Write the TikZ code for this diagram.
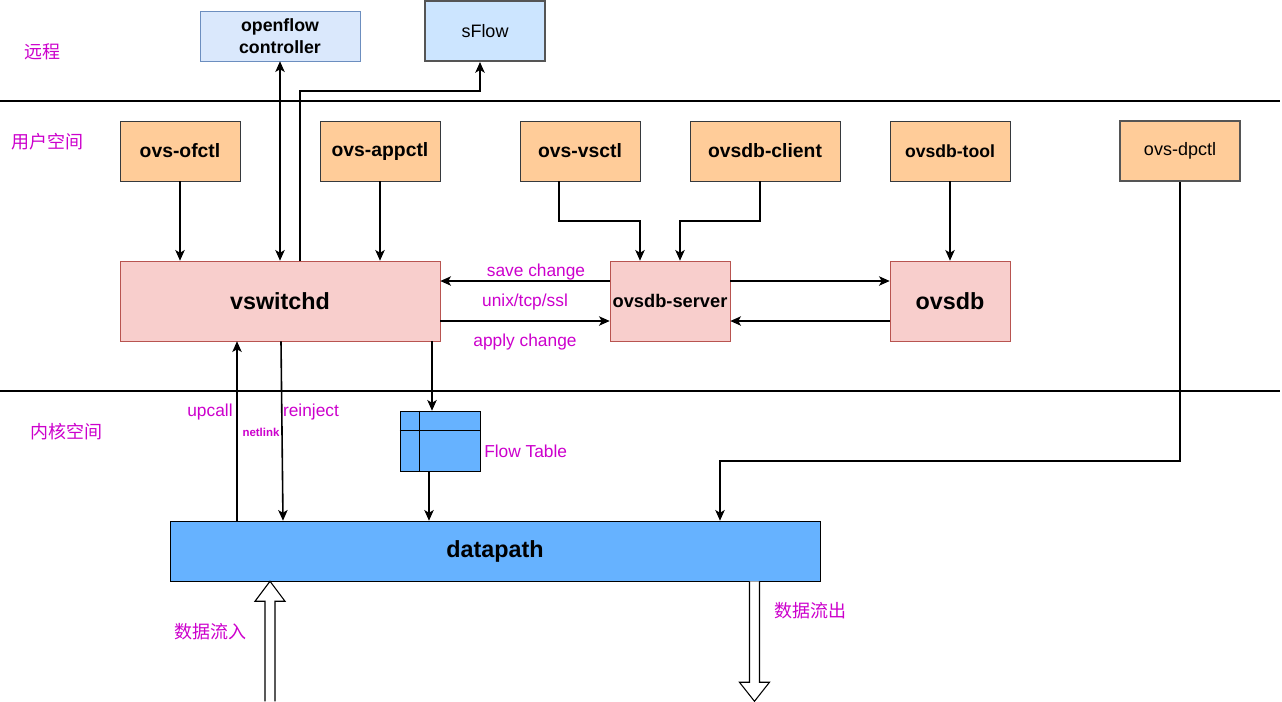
\documentclass[tikz,border=0pt]{standalone}
\usepackage{fontspec}
\setmainfont{Liberation Sans}
\newfontfamily\cjk{Noto Sans CJK SC}
\usepackage{xcolor}
\usetikzlibrary{arrows.meta}
\definecolor{tooltint}{HTML}{FFCC99}
\definecolor{toolline}{HTML}{36393D}
\definecolor{daemontint}{HTML}{F8CECC}
\definecolor{daemonline}{HTML}{B85450}
\definecolor{ctrltint}{HTML}{DAE8FC}
\definecolor{ctrlline}{HTML}{6C8EBF}
\definecolor{sflowtint}{HTML}{CCE5FF}
\definecolor{greyline}{HTML}{555555}
\definecolor{kerneltint}{HTML}{66B2FF}
\definecolor{notetext}{HTML}{CC00CC}

\begin{document}
\begin{tikzpicture}[x=0.75pt,y=-0.75pt,>={Stealth[length=8pt,width=7pt,inset=2pt]}]
\tikzstyle{every node}+=[inner sep=0pt]
\tikzstyle{toolbox}=[draw=toolline, fill=tooltint, minimum width=90pt, minimum height=45pt, font=\fontsize{14.5}{17}\selectfont\bfseries]
\tikzstyle{daemonbox}=[draw=daemonline, fill=daemontint, minimum height=60pt, font=\fontsize{17.5}{20}\selectfont\bfseries]
\tikzstyle{note}=[text=notetext, font=\fontsize{13}{15}\selectfont]
\tikzstyle{zone}=[text=notetext, font=\cjk\fontsize{13.5}{15}\selectfont]
\tikzstyle{arr}=[line width=1.2pt, ->]
\tikzstyle{hollow}=[line width=0.8pt, fill=white]
\useasboundingbox (0,0) rectangle (1282,701);
% zone separators
\draw [line width=0.8pt] (0,101) -- (1280,101);
\draw [line width=0.8pt] (0,391) -- (1280,391);
\node [zone] (remote) at (42,52) {远程};
\node [zone] (userspace) at (48,142) {用户空间};
\node [zone] (kernelspace) at (66,432) {内核空间};
% remote side
\node [draw=ctrlline, fill=ctrltint, minimum width=120pt, minimum height=37.5pt, align=center, font=\fontsize{13.3}{16}\selectfont\bfseries] (openflow) at (280,36) {openflow\\controller};
\node [draw=greyline, line width=1.5pt, fill=sflowtint, minimum width=90pt, minimum height=45pt, font=\fontsize{13.5}{16}\selectfont] (sFlow) at (485,31) {sFlow};
% user space tools
\node [toolbox] (ofctl) at (180,151) {ovs-ofctl};
\node [toolbox] (appctl) at (380,151) {ovs-appctl};
\node [toolbox] (vsctl) at (580,151) {ovs-vsctl};
\node [toolbox, minimum width=112.5pt] (client) at (765,151) {ovsdb-client};
\node [toolbox, font=\fontsize{13.2}{16}\selectfont\bfseries] (tool) at (950,151) {ovsdb-tool};
\node [toolbox, draw=greyline, line width=1.5pt, font=\fontsize{13.5}{16}\selectfont] (dpctl) at (1180,151) {ovs-dpctl};
% daemons
\node [daemonbox, minimum width=240pt] (vswitchd) at (280,301) {vswitchd};
\node [daemonbox, minimum width=90pt, font=\fontsize{13.7}{16}\selectfont\bfseries] (server) at (670,301) {ovsdb-server};
\node [daemonbox, minimum width=90pt] (ovsdb) at (950,301) {ovsdb};
% kernel
\node [draw, fill=kerneltint, minimum width=60pt, minimum height=45pt] (flow) at (440,441) {};
\draw ([xshift=15pt]flow.north west) -- ([xshift=15pt]flow.south west);
\draw ([yshift=-15pt]flow.north west) -- ([yshift=-15pt]flow.north east);
\node [draw, fill=kerneltint, minimum width=487.5pt, minimum height=45pt, font=\fontsize{17.5}{20}\selectfont\bfseries] (datapath) at (495,551) {datapath};
% labels
\node [note] (save) at (536,272) {save change};
\node [note] (proto) at (525,302) {unix/tcp/ssl};
\node [note] (apply) at (525,342) {apply change};
\node [note] (upcall) at (210,412) {upcall};
\node [note] (reinject) at (311,412) {reinject};
\node [note, font=\fontsize{8.6}{10}\selectfont\bfseries] (netlink) at (261,432) {netlink};
\node [note, anchor=west] (flowlabel) at (484,451) {Flow Table};
\node [zone] (datain) at (210,632) {数据流入};
\node [zone] (dataout) at (810,611) {数据流出};
% connectors
\coordinate (sflowfoot) at (300,261);
\coordinate (sflowbend) at (480,91);
\coordinate (dpbend) at (720,461);
\path ([xshift=114pt]vswitchd.south) coordinate (vsout);
\path ([xshift=-8.25pt]flow.south) coordinate (ftout);
\path ([xshift=-193.5pt]datapath.north) coordinate (upfoot);
\path ([xshift=-168.75pt]datapath.south) coordinate (intip);
\path ([xshift=194.6pt]datapath.south) coordinate (outtop);
\draw [arr, <->] (openflow) -- (openflow |- vswitchd.north);
\draw [arr] (sflowfoot) |- (sflowbend) -- (sflowbend |- sFlow.south);
\draw [arr] (ofctl) -- (ofctl |- vswitchd.north);
\draw [arr] (appctl) -- (appctl |- vswitchd.north);
\draw [arr] ([xshift=-15.75pt]vsctl.south) -- ++(0,40) -| ([xshift=-22.5pt]server.north);
\draw [arr] ([xshift=-3.75pt]client.south) -- ++(0,40) -| ([xshift=7.5pt]server.north);
\draw [arr] (tool) -- (ovsdb);
\draw [arr] (dpctl) |- (dpbend) -- (dpbend |- datapath.north);
\draw [arr] ([yshift=15pt]server.west) -- ([yshift=15pt]vswitchd.east);
\draw [arr] ([yshift=-15pt]vswitchd.east) -- ([yshift=-15pt]server.west);
\draw [arr] ([yshift=15pt]server.east) -- ([yshift=15pt]ovsdb.west);
\draw [arr] ([yshift=-15pt]ovsdb.west) -- ([yshift=-15pt]server.east);
\draw [arr] (vsout) -- (vsout |- flow.north);
\draw [arr] (ftout) -- (ftout |- datapath.north);
\draw [arr] (upfoot) -- (upfoot |- vswitchd.south);
\draw [arr] ([xshift=0.75pt]vswitchd.south) -- ([xshift=-159pt]datapath.north);
% data in / out
\draw [hollow] (intip) ++(-5,120) -- ++(0,-100) -- ++(-10,0) -- (intip) -- ++(15,20) -- ++(-10,0) -- ++(0,100);
\draw [hollow] ([xshift=-3.75pt]outtop) -- ++(0,101) -- ++(-10,0) -- ++(15,19) -- ++(15,-19) -- ++(-10,0) -- ++(0,-101);
\end{tikzpicture}
\end{document}
